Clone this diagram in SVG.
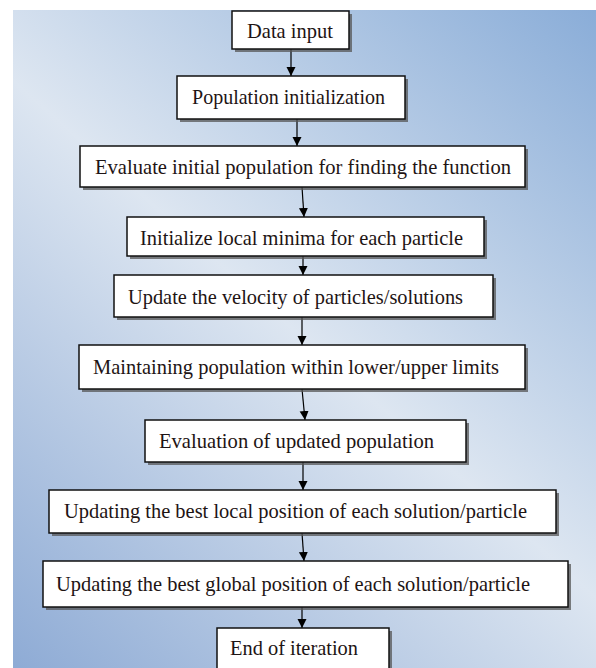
<svg xmlns="http://www.w3.org/2000/svg" width="596" height="668" viewBox="0 0 596 668">
<defs>
<linearGradient id="bg" gradientUnits="userSpaceOnUse" x1="596" y1="10" x2="13" y2="668">
<stop offset="0" stop-color="#8aadd8"/>
<stop offset="0.5" stop-color="#dde6f1"/>
<stop offset="1" stop-color="#8eabd5"/>
</linearGradient>
<marker id="ah" markerWidth="9" markerHeight="10" refX="9" refY="4.5" orient="auto" markerUnits="userSpaceOnUse">
<path d="M0,0 L9,4.5 L0,9 Z" fill="#000"/>
</marker>
</defs>
<style>
.shadow{fill:#555;opacity:0.75}
.box{fill:#fff;stroke:#111;stroke-width:1.5}
.t{font-family:"Liberation Serif","Times New Roman",serif;font-size:21px;fill:#1e1414}
.c{stroke:#000;stroke-width:1.2;fill:none;marker-end:url(#ah)}
</style>
<rect x="13" y="10" width="583" height="658" fill="url(#bg)"/>
<g id="connectors">
<line class="c" x1="291" y1="49" x2="291" y2="76"/>
<line class="c" x1="297" y1="119" x2="297" y2="146"/>
<line class="c" x1="302" y1="187" x2="304" y2="217"/>
<line class="c" x1="303" y1="256" x2="303" y2="275"/>
<line class="c" x1="302" y1="317" x2="302" y2="345"/>
<line class="c" x1="302" y1="389" x2="305" y2="420"/>
<line class="c" x1="303" y1="462" x2="303" y2="490"/>
<line class="c" x1="302" y1="533" x2="304" y2="561"/>
<line class="c" x1="302" y1="607" x2="302" y2="628"/>
</g>
<g id="n1">
<rect class="shadow" x="235" y="14" width="117" height="38"/>
<rect class="box" x="232" y="11" width="117" height="38"/>
<text class="t" x="247" y="38" textLength="86" lengthAdjust="spacingAndGlyphs">Data input</text>
</g>
<g id="n2">
<rect class="shadow" x="180" y="79" width="228" height="43"/>
<rect class="box" x="177" y="76" width="228" height="43"/>
<text class="t" x="192" y="104" textLength="193" lengthAdjust="spacingAndGlyphs">Population initialization</text>
</g>
<g id="n3">
<rect class="shadow" x="83" y="149" width="445" height="41"/>
<rect class="box" x="80" y="146" width="445" height="41"/>
<text class="t" x="95" y="174" textLength="416" lengthAdjust="spacingAndGlyphs">Evaluate initial population  for finding the function</text>
</g>
<g id="n4">
<rect class="shadow" x="130" y="220" width="357" height="39"/>
<rect class="box" x="127" y="217" width="357" height="39"/>
<text class="t" x="140" y="245" textLength="323" lengthAdjust="spacingAndGlyphs">Initialize local minima  for each particle</text>
</g>
<g id="n5">
<rect class="shadow" x="117" y="278" width="379" height="42"/>
<rect class="box" x="114" y="275" width="379" height="42"/>
<text class="t" x="128" y="304" textLength="335" lengthAdjust="spacingAndGlyphs">Update the velocity of particles/solutions</text>
</g>
<g id="n6">
<rect class="shadow" x="82" y="348" width="446" height="44"/>
<rect class="box" x="79" y="345" width="446" height="44"/>
<text class="t" x="93" y="374" textLength="406" lengthAdjust="spacingAndGlyphs">Maintaining population  within lower/upper limits</text>
</g>
<g id="n7">
<rect class="shadow" x="148" y="423" width="321" height="42"/>
<rect class="box" x="145" y="420" width="321" height="42"/>
<text class="t" x="159" y="448" textLength="275" lengthAdjust="spacingAndGlyphs">Evaluation of updated population</text>
</g>
<g id="n8">
<rect class="shadow" x="52" y="493" width="507" height="43"/>
<rect class="box" x="49" y="490" width="507" height="43"/>
<text class="t" x="64" y="518" textLength="463" lengthAdjust="spacingAndGlyphs">Updating the best local position  of each solution/particle</text>
</g>
<g id="n9">
<rect class="shadow" x="46" y="564" width="525" height="46"/>
<rect class="box" x="43" y="561" width="525" height="46"/>
<text class="t" x="56" y="591" textLength="474" lengthAdjust="spacingAndGlyphs">Updating the best global position of each solution/particle</text>
</g>
<g id="n10">
<rect class="shadow" x="220" y="631" width="172" height="45"/>
<rect class="box" x="217" y="628" width="172" height="45"/>
<text class="t" x="230" y="655" textLength="128" lengthAdjust="spacingAndGlyphs">End of iteration</text>
</g>
</svg>
